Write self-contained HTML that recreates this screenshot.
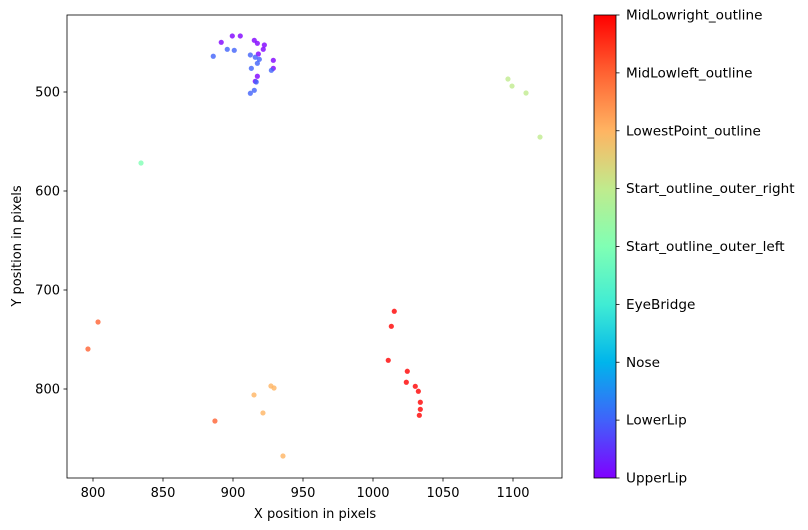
<!DOCTYPE html>
<html><head><meta charset="utf-8"><style>
body{margin:0;background:#fff;}
svg{display:block;font-family:"DejaVu Sans","Liberation Sans",sans-serif;}
</style></head><body>
<svg id="chart" width="808" height="530">
<defs><linearGradient id="rb" x1="0" y1="1" x2="0" y2="0">
<stop offset="0" stop-color="#8000ff"/><stop offset="0.125" stop-color="#4062fa"/><stop offset="0.25" stop-color="#00b5eb"/><stop offset="0.375" stop-color="#40ecd4"/><stop offset="0.5" stop-color="#80ffb4"/><stop offset="0.625" stop-color="#c0eb8d"/><stop offset="0.75" stop-color="#ffb462"/><stop offset="0.875" stop-color="#ff6232"/><stop offset="1" stop-color="#ff0000"/>
</linearGradient></defs>
<g id="marks"></g>
<rect x="67" y="15" width="495" height="463" fill="none" stroke="#000" stroke-width="0.8"/>
<g id="axes"></g>
<text x="315" y="518" text-anchor="middle" font-size="13">X position in pixels</text>
<text transform="translate(21,246) rotate(-90)" text-anchor="middle" font-size="13">Y position in pixels</text>
<rect x="594" y="15" width="22" height="463" fill="url(#rb)" stroke="#000" stroke-width="0.8"/>
<g id="cbar"></g>
</svg>
<script>
const categories=["UpperLip","LowerLip","Nose","EyeBridge","Start_outline_outer_left","Start_outline_outer_right","LowestPoint_outline","MidLowleft_outline","MidLowright_outline"];
const colors=["#8000ff","#4062fa","#00b5eb","#40ecd4","#80ffb4","#c0eb8e","#ffb462","#ff6232","#ff0000"];
const xTicks=[800,850,900,950,1000,1050,1100];
const yTicks=[500,600,700,800];
const upperLipX=[899.5,905.2,891.6,915.2,917.4,922.4,921.6,918.1,928.8,928.8,917.4,915.9];
const upperLipY=[443.4,443.4,449.8,447.8,450.8,452.5,456.9,461.6,468.0,476.1,484.1,489.2];
const lowerLipX=[885.9,895.9,900.9,912.4,915.9,918.8,917.4,913.1,927.4,916.6,915.2,912.4];
const lowerLipY=[463.9,456.9,457.9,462.6,464.9,467.0,471.0,476.1,478.1,489.9,498.3,501.3];
const startLeftX=[834.3];
const startLeftY=[571.7];
const startRightX=[1096.4,1099.3,1109.3,1119.3];
const startRightY=[486.9,494.0,501.0,545.5];
const lowestX=[927.1,929.3,915.0,921.4,935.7];
const lowestY=[797.0,799.0,806.0,824.2,867.7];
const midLeftX=[803.6,796.4,887.1];
const midLeftY=[732.3,759.6,832.3];
const midRightX=[1015.2,1013.1,1010.9,1024.5,1023.8,1030.2,1032.4,1033.8,1033.8,1033.1];
const midRightY=[721.5,736.7,771.0,782.1,793.2,797.3,802.3,813.4,820.5,826.6];
const series=[[0,upperLipX,upperLipY],[1,lowerLipX,lowerLipY],[4,startLeftX,startLeftY],[5,startRightX,startRightY],[6,lowestX,lowestY],[7,midLeftX,midLeftY],[8,midRightX,midRightY]];
const NS="http://www.w3.org/2000/svg";
function sx(v){return 93+(v-800)*1.4;}
function sy(v){return 92+(v-500)*0.99;}
function mk(t,a,p){const e=document.createElementNS(NS,t);for(const k in a)e.setAttribute(k,a[k]);p.appendChild(e);return e;}
const marks=document.getElementById('marks');
series.forEach(s=>{const [ci,xs,ys]=s;xs.forEach((x,i)=>{
 const c=mk('circle',{cx:sx(x),cy:sy(ys[i]),r:2.6,fill:colors[ci],'fill-opacity':0.8},marks);
 
 
});});
const axes=document.getElementById('axes');
xTicks.forEach(v=>{const x=sx(v);
 const l=mk('line',{x1:x,x2:x,y1:478,y2:481.5,stroke:'#000','stroke-width':0.8},axes);
 
 
 const t=mk('text',{x:x,y:497,'text-anchor':'middle','font-size':13},axes);t.textContent=v;
 
 
});
yTicks.forEach(v=>{const y=sy(v);
 const l=mk('line',{x1:63.5,x2:67,y1:y,y2:y,stroke:'#000','stroke-width':0.8},axes);
 
 
 const t=mk('text',{x:60,y:y+4.5,'text-anchor':'end','font-size':13},axes);t.textContent=v;
 
 
});
const cb=document.getElementById('cbar');
categories.forEach((c,i)=>{const y=478-i*(463/8);
 const l=mk('line',{x1:616,x2:619.5,y1:y,y2:y,stroke:'#000','stroke-width':0.8},cb);
 
 
 const t=mk('text',{x:626,y:y+4.5,'font-size':13.6},cb);t.textContent=c;
 
 
});
</script>
</body></html>
